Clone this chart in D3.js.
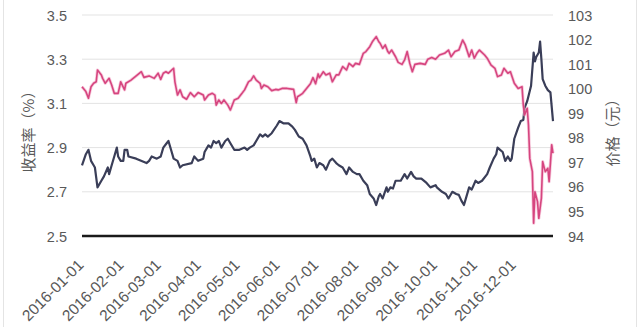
<!DOCTYPE html>
<html><head><meta charset="utf-8">
<script src="https://cdn.jsdelivr.net/npm/d3@7"></script>
<style>
html,body{margin:0;padding:0;background:#fff;}
svg{display:block;font-family:"Noto Sans CJK SC","Liberation Sans",sans-serif;}
</style></head>
<body><svg id="chart" width="640" height="327"></svg>
<script>
// ---------- data ----------
const monthLabels = ["2016-01-01","2016-02-01","2016-03-01","2016-04-01","2016-05-01","2016-06-01",
  "2016-07-01","2016-08-01","2016-09-01","2016-10-01","2016-11-01","2016-12-01"];
const yieldTicks = [2.5, 2.7, 2.9, 3.1, 3.3, 3.5];
const priceTicks = [94, 95, 96, 97, 98, 99, 100, 101, 102, 103];

const yieldDates = ["2016-01-01","2016-01-04","2016-01-06","2016-01-08","2016-01-10","2016-01-11","2016-01-13","2016-01-16","2016-01-18","2016-01-21","2016-01-22","2016-01-24","2016-01-26","2016-01-28","2016-01-29","2016-01-31",
"2016-02-02","2016-02-03","2016-02-05","2016-02-06","2016-02-12","2016-02-20","2016-02-22","2016-02-24","2016-02-28",
"2016-03-02","2016-03-04","2016-03-06","2016-03-08","2016-03-10","2016-03-12","2016-03-15","2016-03-17","2016-03-19","2016-03-26","2016-03-28","2016-03-31",
"2016-04-04","2016-04-05","2016-04-08","2016-04-10","2016-04-12","2016-04-14","2016-04-16","2016-04-18","2016-04-21","2016-04-23","2016-04-25","2016-04-28",
"2016-05-02","2016-05-06","2016-05-08","2016-05-10","2016-05-13","2016-05-15","2016-05-18","2016-05-20","2016-05-22","2016-05-24","2016-05-27","2016-05-31",
"2016-06-02","2016-06-05","2016-06-09","2016-06-12","2016-06-14","2016-06-17","2016-06-20","2016-06-23","2016-06-26","2016-06-27","2016-06-29",
"2016-07-01","2016-07-03","2016-07-06","2016-07-08","2016-07-11","2016-07-13","2016-07-16","2016-07-18","2016-07-21","2016-07-24","2016-07-26","2016-07-29",
"2016-08-01","2016-08-03","2016-08-06","2016-08-09","2016-08-11","2016-08-14","2016-08-16","2016-08-18","2016-08-19","2016-08-21","2016-08-24","2016-08-25","2016-08-27","2016-08-29","2016-08-31",
"2016-09-04","2016-09-07","2016-09-09","2016-09-12","2016-09-14","2016-09-16","2016-09-20","2016-09-24","2016-09-27",
"2016-10-01","2016-10-02","2016-10-06","2016-10-09","2016-10-11","2016-10-14","2016-10-17","2016-10-19","2016-10-21","2016-10-23","2016-10-24","2016-10-27","2016-10-29",
"2016-11-01","2016-11-03","2016-11-06","2016-11-10","2016-11-12","2016-11-15","2016-11-17","2016-11-18","2016-11-20","2016-11-22","2016-11-24","2016-11-26","2016-11-28","2016-11-29",
"2016-12-01","2016-12-04","2016-12-06","2016-12-08","2016-12-09","2016-12-11","2016-12-14","2016-12-16","2016-12-17","2016-12-18","2016-12-20","2016-12-21","2016-12-22","2016-12-23","2016-12-25","2016-12-27","2016-12-29","2016-12-31"];
const yieldValues = [2.82,2.87,2.89,2.84,2.82,2.81,2.72,2.75,2.77,2.81,2.78,2.82,2.86,2.90,2.86,2.84,
2.84,2.89,2.89,2.86,2.85,2.83,2.84,2.86,2.85,
2.86,2.90,2.915,2.93,2.89,2.85,2.84,2.81,2.82,2.83,2.86,2.84,
2.85,2.88,2.91,2.90,2.93,2.92,2.93,2.90,2.93,2.94,2.92,2.89,
2.89,2.90,2.89,2.90,2.91,2.93,2.96,2.95,2.96,2.95,2.965,3.00,
3.02,3.01,3.01,2.995,2.98,2.95,2.94,2.91,2.86,2.84,2.85,
2.81,2.83,2.82,2.80,2.84,2.85,2.83,2.82,2.81,2.78,2.81,2.79,
2.78,2.78,2.75,2.73,2.69,2.67,2.64,2.68,2.69,2.67,2.72,2.70,2.72,2.715,2.75,
2.75,2.78,2.76,2.79,2.77,2.76,2.76,2.74,2.72,
2.73,2.72,2.70,2.69,2.67,2.70,2.69,2.686,2.66,2.64,2.66,2.72,2.71,
2.75,2.74,2.75,2.78,2.81,2.85,2.87,2.90,2.89,2.88,2.84,2.86,2.84,2.85,
2.94,2.99,3.02,3.025,3.08,3.11,3.18,3.33,3.29,3.31,3.33,3.38,3.30,3.21,3.18,3.16,3.15,3.02];

const priceDates = ["2016-01-01","2016-01-04","2016-01-06","2016-01-08","2016-01-10","2016-01-12","2016-01-13","2016-01-16","2016-01-17","2016-01-19","2016-01-22","2016-01-24","2016-01-26","2016-01-29","2016-01-31",
"2016-02-03","2016-02-04","2016-02-08","2016-02-12","2016-02-16","2016-02-18","2016-02-22","2016-02-26","2016-02-29",
"2016-03-02","2016-03-04","2016-03-06","2016-03-08","2016-03-12","2016-03-13","2016-03-15","2016-03-17","2016-03-19","2016-03-22","2016-03-25","2016-03-28","2016-03-31",
"2016-04-04","2016-04-05","2016-04-08","2016-04-11","2016-04-13","2016-04-14","2016-04-16","2016-04-18","2016-04-20","2016-04-23","2016-04-25","2016-04-28",
"2016-05-01","2016-05-04","2016-05-06","2016-05-09","2016-05-11","2016-05-13","2016-05-15","2016-05-18","2016-05-19","2016-05-21","2016-05-24","2016-05-27","2016-05-30",
"2016-06-01","2016-06-04","2016-06-08","2016-06-13","2016-06-15","2016-06-16","2016-06-18","2016-06-20","2016-06-23","2016-06-26","2016-06-28","2016-06-30",
"2016-07-02","2016-07-03","2016-07-06","2016-07-08","2016-07-11","2016-07-13","2016-07-16","2016-07-18","2016-07-21","2016-07-24","2016-07-26","2016-07-29","2016-07-31",
"2016-08-03","2016-08-06","2016-08-08","2016-08-11","2016-08-13","2016-08-16","2016-08-18","2016-08-19","2016-08-21","2016-08-23","2016-08-25","2016-08-26","2016-08-28","2016-08-31",
"2016-09-02","2016-09-05","2016-09-07","2016-09-09","2016-09-11","2016-09-13","2016-09-15","2016-09-19","2016-09-23","2016-09-25","2016-09-28",
"2016-10-01","2016-10-04","2016-10-08","2016-10-11","2016-10-13","2016-10-16","2016-10-19","2016-10-22","2016-10-24","2016-10-27","2016-10-29","2016-10-31",
"2016-11-02","2016-11-04","2016-11-08","2016-11-10","2016-11-13","2016-11-16","2016-11-18","2016-11-21","2016-11-23","2016-11-26","2016-11-28",
"2016-12-01","2016-12-04","2016-12-07","2016-12-08","2016-12-09","2016-12-11","2016-12-12","2016-12-13","2016-12-15","2016-12-16","2016-12-17","2016-12-19","2016-12-20","2016-12-22","2016-12-23","2016-12-25","2016-12-27","2016-12-28","2016-12-30","2016-12-31"];
const priceValues = [100.08,99.88,99.61,100.08,100.22,100.28,100.76,100.56,100.42,100.22,100.42,100.15,99.81,99.81,100.28,
99.95,100.22,100.35,100.52,100.69,100.46,100.52,100.42,100.63,
100.38,100.63,100.69,100.63,100.83,100.28,99.74,99.95,99.67,99.57,99.84,99.67,99.84,
99.74,99.54,99.74,99.81,99.74,99.33,99.54,99.40,99.54,99.33,99.13,99.54,
99.61,99.81,99.95,100.28,100.35,100.52,100.35,100.22,100.01,100.15,100.08,99.92,99.97,
99.95,100.01,100.01,99.97,99.43,99.67,99.74,99.81,100.01,100.2,100.45,100.2,
100.6,100.45,100.69,100.56,100.63,100.28,100.56,100.56,100.90,100.76,101.03,100.90,101.03,
100.99,101.44,101.51,101.71,101.91,102.12,101.91,101.85,101.64,101.78,101.51,101.44,101.57,101.30,
101.07,100.99,101.17,101.51,101.03,100.69,100.99,101.03,100.99,101.2,101.27,
101.2,101.37,101.44,101.57,101.30,101.51,101.57,101.98,101.78,101.30,101.57,101.24,
101.44,101.57,101.37,101.24,100.96,100.83,100.49,100.56,100.83,100.63,100.69,
100.22,100.01,100.08,99.33,98.93,99.20,98.52,97.16,96.62,94.52,95.80,95.40,94.72,95.54,97.03,96.62,96.76,96.21,97.71,97.37];

// ---------- chart ----------
const parse = d3.timeParse("%Y-%m-%d");
const svg = d3.select("#chart");
const W = 640, H = 327;
const plot = {left: 82, right: 553, top: 15, bottom: 236};

svg.append("rect").attr("x", 3.5).attr("y", -2).attr("width", 633).attr("height", H + 4)
  .attr("fill", "none").attr("stroke", "#e4e4e4");

const x = d3.scaleTime()
  .domain([parse("2016-01-01"), parse("2016-12-31")])
  .range([plot.left, plot.right]);
const yL = d3.scaleLinear().domain([2.5, 3.5]).range([plot.bottom, plot.top]);
const yR = d3.scaleLinear().domain([94, 103]).range([plot.bottom, plot.top]);

const textColor = "#595959";

// gridlines
svg.append("g").selectAll("line").data(yieldTicks.filter(d => d > 2.5)).join("line")
  .attr("x1", plot.left).attr("x2", plot.right)
  .attr("y1", d => yL(d)).attr("y2", d => yL(d))
  .attr("stroke", "#e3e3e3").attr("stroke-width", 1);

// left axis
const gL = svg.append("g").attr("transform", `translate(${plot.left - 15},0)`)
  .call(d3.axisLeft(yL).tickValues(yieldTicks).tickFormat(d3.format(".1f")).tickSize(0).tickPadding(0));
gL.select(".domain").remove();
gL.selectAll("text").attr("fill", textColor).style("font-size", "14.5px").attr("dy", "0.35em");

// right axis
const gR = svg.append("g").attr("transform", `translate(${plot.right + 15},0)`)
  .call(d3.axisRight(yR).tickValues(priceTicks).tickFormat(d3.format("d")).tickSize(0).tickPadding(0));
gR.select(".domain").remove();
gR.selectAll("text").attr("fill", textColor).style("font-size", "14.5px").attr("dy", "0.35em");

// bottom axis
const gB = svg.append("g").attr("transform", `translate(0,${plot.bottom})`)
  .call(d3.axisBottom(x).tickValues(monthLabels.map(parse)).tickFormat(d3.timeFormat("%Y-%m-%d")).tickSize(0));
gB.select(".domain").remove();
gB.selectAll("text")
  .attr("fill", textColor).style("font-size", "15.5px")
  .attr("text-anchor", "end")
  .attr("dy", 0).attr("y", 0)
  .attr("transform", "translate(2,30) rotate(-45)");

// series
const lineY = d3.line().x(d => x(d[0])).y(d => yL(d[1]));
const lineP = d3.line().x(d => x(d[0])).y(d => yR(d[1]));
const yieldData = yieldDates.map((d, i) => [parse(d), yieldValues[i]]);
const priceData = priceDates.map((d, i) => [parse(d), priceValues[i]]);

svg.append("path").datum(yieldData).attr("d", lineY)
  .attr("fill", "none").attr("stroke", "#3a3e58").attr("stroke-width", 2.2)
  .attr("stroke-linejoin", "round");
svg.append("path").datum(priceData).attr("d", lineP)
  .attr("fill", "none").attr("stroke", "#f2a9c6").attr("stroke-width", 3.2)
  .attr("stroke-linejoin", "round").attr("opacity", 0.6);
svg.append("path").datum(priceData).attr("d", lineP)
  .attr("fill", "none").attr("stroke", "#d6457f").attr("stroke-width", 1.6)
  .attr("stroke-linejoin", "round");

// x axis baseline
svg.append("line").attr("x1", plot.left).attr("x2", plot.right)
  .attr("y1", plot.bottom).attr("y2", plot.bottom)
  .attr("stroke", "#1a1a1a").attr("stroke-width", 2.4);

// axis titles
svg.append("text").attr("transform", "translate(34,128) rotate(-90)")
  .attr("text-anchor", "middle").attr("fill", textColor).style("font-size", "15px")
  .text("收益率（%）");
svg.append("text").attr("transform", "translate(618,129) rotate(-90)")
  .attr("text-anchor", "middle").attr("fill", textColor).style("font-size", "15px")
  .text("价格（元）");
</script></body></html>
